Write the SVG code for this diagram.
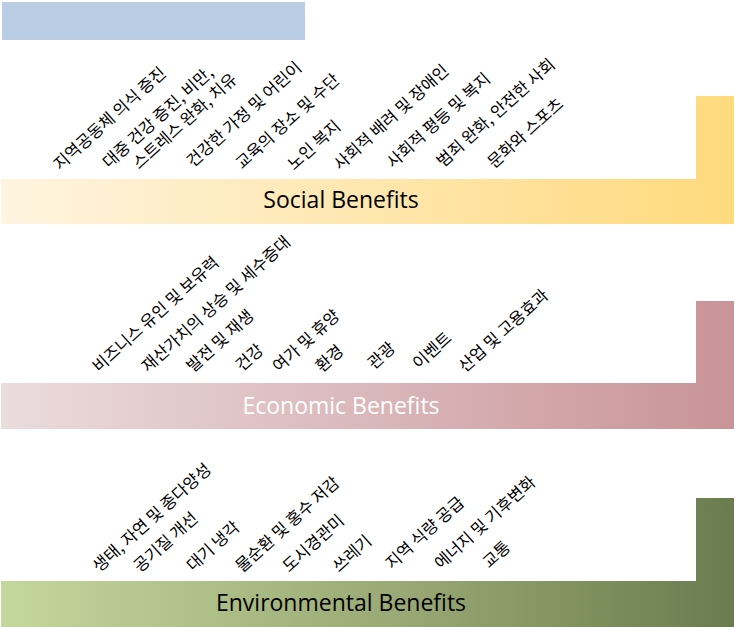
<svg xmlns="http://www.w3.org/2000/svg" width="735" height="627" viewBox="0 0 735 627">
<defs>
<linearGradient id="gSoc" gradientUnits="userSpaceOnUse" x1="0" y1="0" x2="735" y2="0">
<stop offset="0" stop-color="#FEF4E0"/><stop offset="1" stop-color="#FFD97C"/>
</linearGradient>
<linearGradient id="gEco" gradientUnits="userSpaceOnUse" x1="0" y1="0" x2="735" y2="0">
<stop offset="0" stop-color="#EBDCDD"/><stop offset="1" stop-color="#C99397"/>
</linearGradient>
<linearGradient id="gEnv" gradientUnits="userSpaceOnUse" x1="0" y1="0" x2="735" y2="0">
<stop offset="0" stop-color="#C4D79C"/><stop offset="0.55" stop-color="#99A874"/><stop offset="1" stop-color="#6A7C4E"/>
</linearGradient>
<style>
.lbl{font-family:"Noto Sans CJK KR","Noto Sans",sans-serif;font-size:16.5px;fill:#000}
.ttl{font-family:"Open Sans","Noto Sans","Noto Sans CJK KR",sans-serif;font-size:23px;text-anchor:middle}
</style>
</defs>
<rect id="top-bar" x="2" y="2" width="303" height="38" fill="#B9CDE5"/>
<g id="social">
<path d="M1,179 H696 V96 H734 V224 H1 Z" fill="url(#gSoc)"/>
<text class="ttl" x="341" y="208" fill="#000">Social Benefits</text>
<text class="lbl" transform="translate(60,171) rotate(-42)">지역공동체 의식 증진</text>
<text class="lbl" transform="translate(109,169) rotate(-42)">대중 건강 증진, 비만,</text>
<text class="lbl" transform="translate(139,170) rotate(-42)">스트레스 완화, 치유</text>
<text class="lbl" transform="translate(193,168) rotate(-42)">건강한 가정 및 어린이</text>
<text class="lbl" transform="translate(242,170) rotate(-42)">교육의 장소 및 수단</text>
<text class="lbl" transform="translate(294,171) rotate(-42)">노인 복지</text>
<text class="lbl" transform="translate(340,171) rotate(-42)">사회적 배려 및 장애인</text>
<text class="lbl" transform="translate(393,169) rotate(-42)">사회적 평등 및 복지</text>
<text class="lbl" transform="translate(443,168) rotate(-42)">범죄 완화, 안전한 사회</text>
<text class="lbl" transform="translate(494,169) rotate(-42)">문화와 스포츠</text>
</g>
<g id="economic">
<path d="M1,383 H696 V301 H734 V429 H1 Z" fill="url(#gEco)"/>
<text class="ttl" x="341" y="414" fill="#FFFFFF">Economic Benefits</text>
<text class="lbl" transform="translate(99,373) rotate(-42)">비즈니스 유인 및 보유력</text>
<text class="lbl" transform="translate(148,373) rotate(-42)">재산가치의 상승 및 세수증대</text>
<text class="lbl" transform="translate(193,373) rotate(-42)">발전 및 재생</text>
<text class="lbl" transform="translate(242,372) rotate(-42)">건강</text>
<text class="lbl" transform="translate(279,373) rotate(-42)">여가 및 휴양</text>
<text class="lbl" transform="translate(322,373) rotate(-42)">환경</text>
<text class="lbl" transform="translate(374,370) rotate(-42)">관광</text>
<text class="lbl" transform="translate(419,370) rotate(-42)">이벤트</text>
<text class="lbl" transform="translate(465,373) rotate(-42)">산업 및 고용효과</text>
</g>
<g id="environmental">
<path d="M1,581 H696 V498 H734 V627 H1 Z" fill="url(#gEnv)"/>
<text class="ttl" x="341" y="611" fill="#000">Environmental Benefits</text>
<text class="lbl" transform="translate(99,573) rotate(-42)">생태, 자연 및 종다양성</text>
<text class="lbl" transform="translate(140,573) rotate(-42)">공기질 개선</text>
<text class="lbl" transform="translate(193,572) rotate(-42)">대기 냉각</text>
<text class="lbl" transform="translate(242,573) rotate(-42)">물순환 및 홍수 저감</text>
<text class="lbl" transform="translate(289,573) rotate(-42)">도시경관미</text>
<text class="lbl" transform="translate(339,573) rotate(-42)">쓰레기</text>
<text class="lbl" transform="translate(392,570) rotate(-42)">지역 식량 공급</text>
<text class="lbl" transform="translate(441,570) rotate(-42)">에너지 및 기후변화</text>
<text class="lbl" transform="translate(489,569) rotate(-42)">교통</text>
</g>
</svg>
